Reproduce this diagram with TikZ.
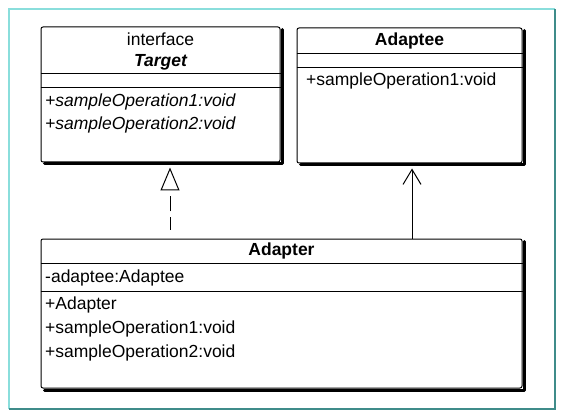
\documentclass[tikz,border=0pt]{standalone}
\usepackage{fontspec}
\setmainfont{Liberation Sans}
\usetikzlibrary{arrows.meta}
\definecolor{framelight}{HTML}{8ADEDC}
\definecolor{framedark}{HTML}{3F8C8A}
\begin{document}
\begin{tikzpicture}[x=1pt,y=-1pt,
  umlbox/.style={draw, line width=1pt, rounded corners=2pt, fill=white, inner sep=0pt},
  shadowline/.style={line width=3pt, line cap=round, line join=round},
  divider/.style={line width=0.9pt},
  lbl/.style={inner sep=0pt, font=\fontsize{17.5}{20}\selectfont, text height=0.72em, text depth=0.2em},
  memb/.style={lbl, anchor=west},
  realize/.style={line width=1pt, dash pattern=on 0pt off 9pt on 13pt off 5pt on 15pt off 40pt,
    -{Triangle[open,length=23pt,width=19pt,line width=1pt]}, shorten >=5pt},
  assoc/.style={line width=1pt, -{Straight Barb[length=15pt,width=18pt,line width=1pt]}, shorten >=5pt}
]
\useasboundingbox (0,0) rectangle (568,417);
% frame
\draw[framelight, line width=1.5pt] (9,409) -- (9,9) -- (555,9);
\draw[framedark, line width=1.5pt] (555,9) -- (555,409) -- (9,409);

% Target
\node[umlbox, minimum width=239pt, minimum height=135pt] (target) at (160.5,94.5) {};
\draw[shadowline] ([xshift=1.5pt,yshift=-3pt]target.north east) -- ([xshift=1.5pt,yshift=-1.5pt]target.south east) -- ([xshift=4pt,yshift=-1.5pt]target.south west);
\draw[divider] (target.west |- 0,73) -- (target.east |- 0,73);
\draw[divider] (target.west |- 0,87) -- (target.east |- 0,87);
\node[lbl] (tint) at (160.5,43) {interface};
\node[lbl, font=\fontsize{17.5}{20}\selectfont\bfseries\itshape] (tname) at (160.5,64) {Target};
\node[memb] (tm1) at (45,104) {\itshape +sampleOperation1:void};
\node[memb] (tm2) at (45,127) {\itshape +sampleOperation2:void};

% Adaptee
\node[umlbox, minimum width=225pt, minimum height=135pt] (adaptee) at (409.5,95.5) {};
\draw[shadowline] ([xshift=1.5pt,yshift=-3pt]adaptee.north east) -- ([xshift=1.5pt,yshift=-1.5pt]adaptee.south east) -- ([xshift=4pt,yshift=-1.5pt]adaptee.south west);
\draw[divider] (adaptee.west |- 0,53) -- (adaptee.east |- 0,53);
\draw[divider] (adaptee.west |- 0,67) -- (adaptee.east |- 0,67);
\node[lbl, font=\fontsize{17.5}{20}\selectfont\bfseries] (aname) at (409.5,43) {Adaptee};
\node[memb] (am1) at (306,83) {+sampleOperation1:void};

% Adapter
\node[umlbox, minimum width=481pt, minimum height=149pt] (adapter) at (281.5,313.5) {};
\draw[shadowline] ([xshift=1.5pt,yshift=-3pt]adapter.north east) -- ([xshift=1.5pt,yshift=-1.5pt]adapter.south east) -- ([xshift=4pt,yshift=-1.5pt]adapter.south west);
\draw[divider] (adapter.west |- 0,263) -- (adapter.east |- 0,263);
\draw[divider] (adapter.west |- 0,291) -- (adapter.east |- 0,291);
\node[lbl, font=\fontsize{17.5}{20}\selectfont\bfseries] (dname) at (281.5,253) {Adapter};
\node[memb] (dat) at (45,280) {-adaptee:Adaptee};
\node[memb] (dm0) at (45,307) {+Adapter};
\node[memb] (dm1) at (45,331) {+sampleOperation1:void};
\node[memb] (dm2) at (45,355) {+sampleOperation2:void};

% connectors
\coordinate (rx) at (170,0);
\coordinate (ax) at (412,0);
\draw[realize] (rx |- adapter.north) -- (rx |- target.south);
\draw[assoc] (ax |- adapter.north) -- (ax |- adaptee.south);
\end{tikzpicture}
\end{document}
